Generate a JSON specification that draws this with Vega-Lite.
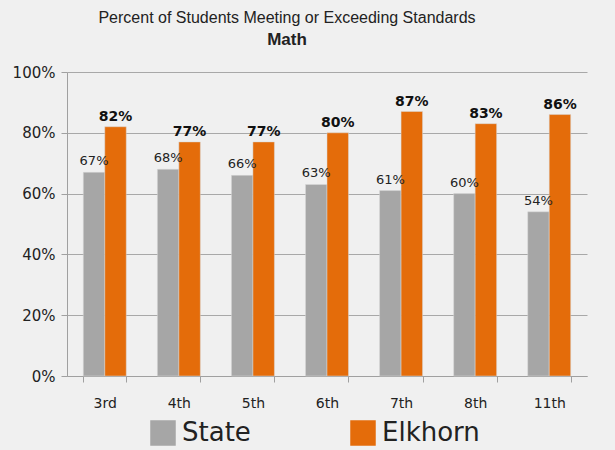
{
  "$schema": "https://vega.github.io/schema/vega-lite/v6.json",
  "width": 520,
  "height": 304,
  "autosize": {"type": "none"},
  "padding": {"left": 67, "top": 72, "right": 28, "bottom": 74},
  "background": "#f0f0f0",
  "title": {
    "text": "Percent of Students Meeting or Exceeding Standards",
    "subtitle": "Math",
    "anchor": "middle",
    "frame": "group",
    "dx": -40,
    "offset": 17,
    "font": "Liberation Sans",
    "fontSize": 16,
    "fontWeight": "normal",
    "color": "#222222",
    "subtitleFont": "Liberation Sans",
    "subtitleFontSize": 17,
    "subtitleFontWeight": "bold",
    "subtitleColor": "#222222",
    "subtitlePadding": 6
  },
  "config": {
    "view": {"stroke": null},
    "font": "DejaVu Sans"
  },
  "data": {
    "values": [
      {"grade": "3rd", "series": "State", "value": 0.67},
      {"grade": "3rd", "series": "Elkhorn", "value": 0.82},
      {"grade": "4th", "series": "State", "value": 0.68},
      {"grade": "4th", "series": "Elkhorn", "value": 0.77},
      {"grade": "5th", "series": "State", "value": 0.66},
      {"grade": "5th", "series": "Elkhorn", "value": 0.77},
      {"grade": "6th", "series": "State", "value": 0.63},
      {"grade": "6th", "series": "Elkhorn", "value": 0.80},
      {"grade": "7th", "series": "State", "value": 0.61},
      {"grade": "7th", "series": "Elkhorn", "value": 0.87},
      {"grade": "8th", "series": "State", "value": 0.60},
      {"grade": "8th", "series": "Elkhorn", "value": 0.83},
      {"grade": "11th", "series": "State", "value": 0.54},
      {"grade": "11th", "series": "Elkhorn", "value": 0.86}
    ]
  },
  "encoding": {
    "x": {
      "field": "grade",
      "type": "nominal",
      "sort": ["3rd", "4th", "5th", "6th", "7th", "8th", "11th"],
      "scale": {"paddingInner": 0.42, "paddingOuter": 0.22},
      "axis": {
        "title": null,
        "labelAngle": 0,
        "labelFontSize": 14,
        "labelColor": "#222222",
        "labelPadding": 14,
        "tickBand": "extent",
        "tickSize": 6,
        "tickColor": "#a0a0a0",
        "domainColor": "#a0a0a0",
        "grid": false
      }
    },
    "xOffset": {
      "field": "series",
      "type": "nominal",
      "sort": ["State", "Elkhorn"],
      "scale": {"paddingInner": 0, "paddingOuter": 0}
    },
    "y": {
      "field": "value",
      "type": "quantitative",
      "scale": {"domain": [0, 1]},
      "axis": {
        "title": null,
        "format": ".0%",
        "values": [0, 0.2, 0.4, 0.6, 0.8, 1],
        "labelFontSize": 15,
        "labelColor": "#222222",
        "labelPadding": 6,
        "tickSize": 6,
        "tickColor": "#a0a0a0",
        "domainColor": "#a0a0a0",
        "gridColor": "#a8a8a8",
        "gridWidth": 1
      }
    }
  },
  "layer": [
    {
      "mark": {"type": "bar", "stroke": "#d8d8d8", "strokeWidth": 0.5},
      "encoding": {
        "color": {
          "field": "series",
          "type": "nominal",
          "sort": ["State", "Elkhorn"],
          "scale": {"domain": ["State", "Elkhorn"], "range": ["#a6a6a6", "#e46c0a"]},
          "legend": {
            "title": null,
            "orient": "none",
            "legendX": 83,
            "legendY": 348,
            "direction": "horizontal",
            "symbolType": "square",
            "symbolSize": 650,
            "symbolStrokeWidth": 0,
            "labelFontSize": 26,
            "labelColor": "#222222",
            "labelOffset": 6,
            "columnPadding": 99,
            "symbolOpacity": 1
          }
        }
      }
    },
    {
      "transform": [{"filter": "datum.series === 'State'"}],
      "mark": {"type": "text", "baseline": "bottom", "dy": -4, "fontSize": 13, "color": "#222222"},
      "encoding": {"text": {"field": "value", "type": "quantitative", "format": ".0%"}}
    },
    {
      "transform": [{"filter": "datum.series === 'Elkhorn'"}],
      "mark": {"type": "text", "baseline": "bottom", "dy": -3, "fontSize": 14, "fontWeight": "bold", "color": "#111111"},
      "encoding": {"text": {"field": "value", "type": "quantitative", "format": ".0%"}}
    }
  ]
}
